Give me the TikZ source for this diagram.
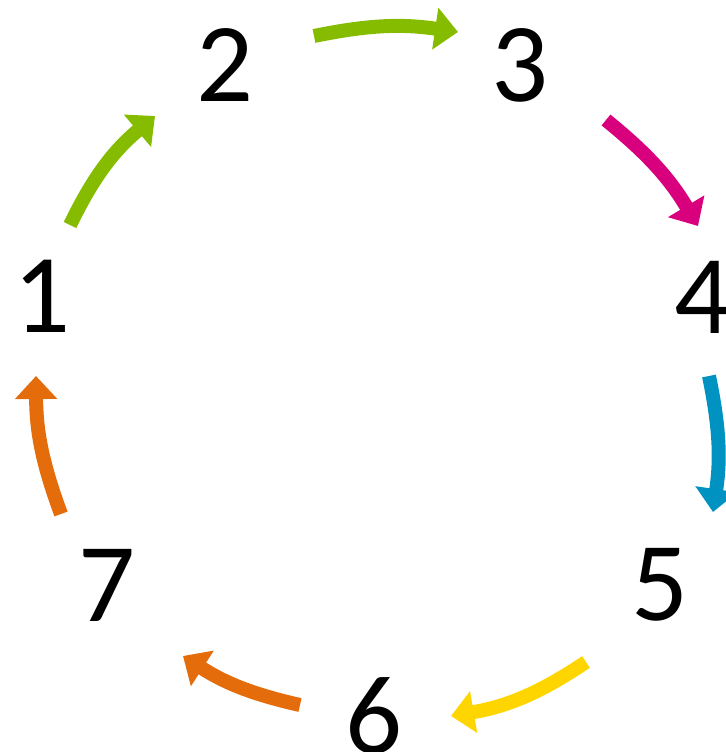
\documentclass[tikz,border=0pt]{standalone}
\usepackage{fontspec}
\setmainfont{Carlito}
\usetikzlibrary{arrows.meta, positioning}

\definecolor{cgreen}{HTML}{86BC00}
\definecolor{cmagenta}{HTML}{D9007E}
\definecolor{cblue}{HTML}{0092C0}
\definecolor{cyellow}{HTML}{FFD500}
\definecolor{corange}{HTML}{E46C0A}

\tikzset{
    num/.style={inner sep=0pt, font=\fontsize{64}{64}\selectfont},
    flow/.style={line width=0.28cm, -{Triangle[width=0.82cm, length=0.46cm]}}
}

\begin{document}
\begin{tikzpicture}[x=0.02cm, y=-0.02cm]
    \useasboundingbox (0,0) rectangle (725,752);
    % digits round the circle
    \node[num] (n1) at (42,296) {1};
    \node[num] (n2) at (225,65) {2};
    \node[num] (n3) at (520,65) {3};
    \node[num] (n4) at (703,297) {4};
    \node[num] (n5) at (660,585) {5};
    \node[num] (n6) at (374,716) {6};
    \node[num] (n7) at (107,585) {7};
    % arrow ends
    \coordinate (a1) at (70,225);   \coordinate (b1) at (155,116);
    \coordinate (a2) at (314,36);   \coordinate (b2) at (458,32);
    \coordinate (a3) at (606,120);  \coordinate (b3) at (698,226);
    \coordinate (a4) at (709,376);  \coordinate (b4) at (713,512);
    \coordinate (a5) at (586,662);  \coordinate (b5) at (451,716);
    \coordinate (a6) at (300,705);  \coordinate (b6) at (183,656);
    \coordinate (a7) at (61,514);   \coordinate (b7) at (36,376);
    \draw[flow, cgreen] (a1) to[bend left=12] (b1);
    \draw[flow, cgreen] (a2) to[bend left=10] (b2);
    \draw[flow, cmagenta] (a3) to[bend left=10] (b3);
    \draw[flow, cblue] (a4) to[bend left=10] (b4);
    \draw[flow, cyellow] (a5) to[bend left=12] (b5);
    \draw[flow, corange] (a6) to[bend left=10] (b6);
    \draw[flow, corange] (a7) to[bend left=10] (b7);
\end{tikzpicture}
\end{document}
